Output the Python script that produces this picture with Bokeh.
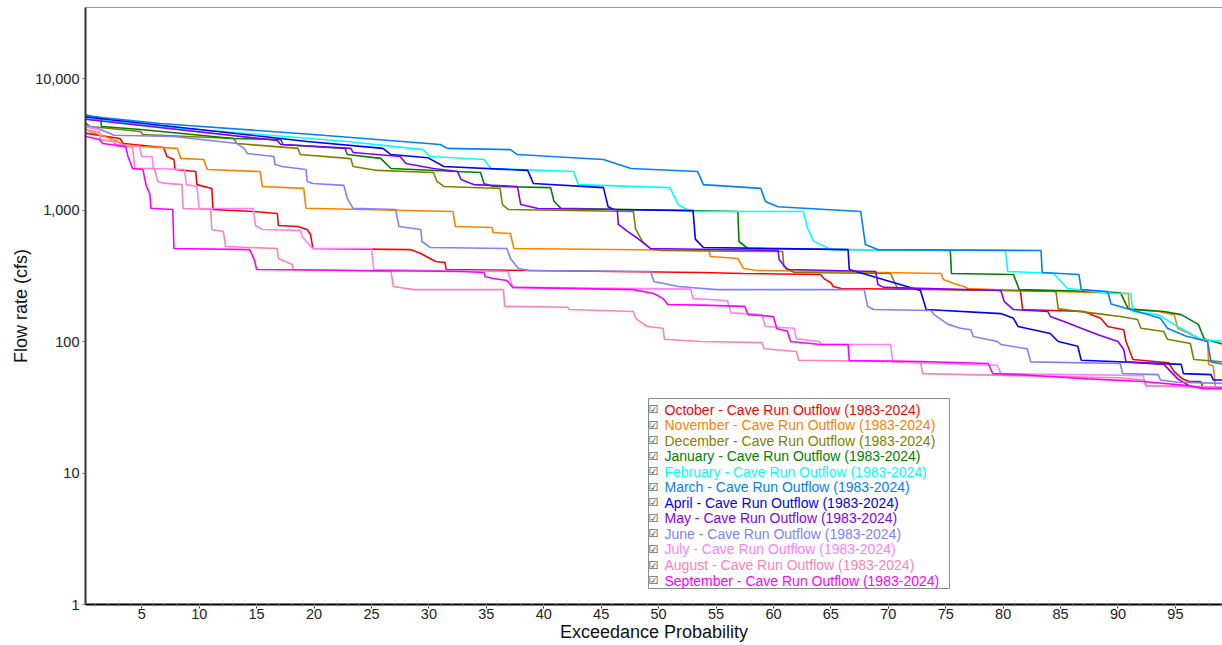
from bokeh.plotting import figure
from bokeh.models import Range1d, FixedTicker, NumeralTickFormatter, Label, BoxAnnotation, LinearAxis
from bokeh.embed import file_html
from bokeh.resources import INLINE

# ---- data: exceedance probability (%) vs flow (cfs) ----
oct_x = [0, 3.1, 3.4, 6.9, 7.2, 7.8, 7.9, 9.7, 9.8, 11.1, 11.2, 14.7, 16.8, 16.9, 18.6, 19.4, 19.7, 19.9, 28.4, 29.3, 30.1, 30.6, 31.4, 31.5, 53.7, 57.4, 64.1, 64.4, 65.0, 65.2, 65.9, 81.5, 81.7, 87.0, 88.5, 89.1, 90.5, 90.7, 91.3, 94.4, 94.9, 95.6, 96.2, 97.2, 97.4, 99.2]
oct_y = [3850, 3500, 3200, 2990, 2550, 2420, 2030, 1960, 1560, 1456, 1009, 975, 940, 762, 749, 711, 651, 509, 500, 467, 428, 406, 399, 353, 335, 329, 323, 301, 280, 262, 253, 244, 175, 169, 150, 130, 123, 100, 73, 69, 59, 52, 49.6, 49.6, 44.7, 44]

nov_x = [0, 0.5, 2.5, 3.4, 4.9, 8.1, 8.4, 10.4, 10.7, 15.3, 15.5, 19.1, 19.3, 32.1, 32.3, 35.5, 35.6, 37.1, 37.4, 54.4, 54.5, 56.9, 57.4, 58.6, 74.6, 74.8, 75.7, 76.6, 76.9, 79.2, 81.5, 87.9, 90.9, 91.0, 93.5, 94.9, 95.2, 97.2, 97.8, 97.9, 98.3, 98.5, 99.2]
nov_y = [4200, 3950, 3440, 3150, 3040, 2940, 2470, 2420, 2030, 1960, 1510, 1460, 1030, 975, 750, 736, 674, 663, 509, 492, 443, 428, 359, 347, 329, 296, 276, 262, 253, 248, 244, 236, 232, 175, 169, 160, 126, 104, 100, 67, 65, 44, 44]

dec_x = [0, 0.5, 4.9, 5.1, 13.0, 13.3, 18.6, 18.8, 23.2, 23.4, 25.5, 30.4, 30.7, 31.3, 36.2, 36.4, 36.9, 47.8, 48.0, 48.6, 49.3, 50.2, 60.8, 60.9, 61.8, 70.2, 70.8, 84.6, 84.8, 88.2, 90.2, 91.7, 92.0, 94.0, 94.3, 96.3, 96.6, 99.2]
dec_y = [4700, 4310, 3950, 3750, 3500, 3200, 2940, 2640, 2460, 2140, 2000, 1930, 1650, 1510, 1456, 1100, 1010, 975, 720, 576, 509, 492, 483, 372, 335, 329, 253, 240, 177, 163, 155, 147, 126, 119, 104, 96.5, 73, 70]

jan_x = [0, 1.4, 1.5, 4.9, 13.0, 17.1, 17.3, 22.7, 22.9, 25.8, 26.7, 32.5, 34.5, 34.8, 35.6, 40.6, 40.9, 41.5, 56.9, 57.0, 57.8, 75.4, 75.5, 80.9, 81.4, 88.2, 90.2, 90.9, 94.0, 95.5, 97.0, 97.5, 98.3, 99.2]
jan_y = [5300, 5000, 4310, 4090, 3500, 3440, 3150, 2940, 2640, 2470, 2070, 1960, 1930, 1590, 1510, 1480, 1160, 1030, 975, 576, 509, 492, 329, 323, 248, 240, 235, 177, 169, 160, 135, 105, 100, 95]

feb_x = [0, 6.6, 22.9, 29.5, 30.1, 34.8, 35.4, 42.6, 43.0, 51.0, 51.7, 52.8, 62.6, 63.0, 63.5, 65.0, 80.2, 80.4, 84.4, 85.6, 89.6, 91.1, 91.3, 93.5, 95.2, 97.2, 99.2]
feb_y = [4960, 4310, 3320, 2880, 2550, 2420, 2070, 1960, 1560, 1480, 1100, 975, 975, 718, 580, 500, 492, 341, 329, 253, 232, 232, 169, 160, 130, 104, 100]

mar_x = [0, 6.6, 19.9, 31.0, 31.6, 37.1, 37.7, 45.2, 47.6, 53.4, 53.9, 58.9, 59.3, 60.4, 67.6, 68.0, 69.1, 83.3, 83.4, 86.6, 86.8, 89.1, 89.4, 93.7, 94.3, 95.9, 97.8, 98.1, 99.2]
mar_y = [5200, 4550, 3750, 3150, 2940, 2880, 2640, 2420, 2070, 1960, 1560, 1460, 1160, 1060, 975, 547, 500, 492, 335, 323, 248, 240, 193, 150, 126, 110, 100, 70, 67]

apr_x = [0, 17.1, 19.4, 26.0, 26.7, 29.9, 31.3, 38.6, 39.1, 45.2, 45.6, 46.1, 53.0, 53.2, 53.9, 66.5, 66.6, 72.8, 73.3, 79.8, 80.9, 81.3, 84.1, 84.8, 86.5, 86.8, 95.5, 95.7, 98.1, 98.3, 99.2]
apr_y = [5100, 3500, 3320, 2940, 2640, 2500, 2140, 2000, 1590, 1480, 1060, 1010, 990, 600, 519, 500, 353, 244, 175, 163, 150, 130, 115, 100, 92, 72, 67, 57, 56, 51, 51]

may_x = [0, 16.8, 17.1, 23.2, 23.4, 27.5, 28.0, 30.4, 32.5, 32.8, 33.9, 37.7, 38.0, 39.5, 46.4, 46.5, 47.3, 48.2, 49.3, 60.4, 60.5, 61.2, 68.9, 69.1, 69.6, 79.8, 80.1, 80.9, 83.9, 84.1, 85.3, 86.8, 88.2, 90.0, 90.5, 90.7, 94.0, 94.6, 95.2, 96.3, 97.5, 99.2]
may_y = [4900, 3380, 3150, 2940, 2740, 2550, 2260, 2070, 1960, 1705, 1560, 1510, 1100, 1027, 1009, 776, 687, 607, 509, 492, 420, 353, 341, 271, 258, 244, 201, 175, 169, 155, 142, 126, 113, 100, 87, 70, 67, 59, 52, 45.5, 44, 44]

jun_x = [0, 1.4, 2.6, 7.8, 13.3, 13.9, 14.2, 16.5, 16.6, 17.2, 19.3, 19.4, 19.9, 22.6, 22.9, 23.4, 27.1, 27.4, 29.3, 29.4, 30.1, 36.8, 37.1, 37.8, 38.7, 49.3, 49.6, 51.7, 55.1, 67.9, 68.2, 68.7, 73.7, 74.0, 75.2, 76.3, 77.2, 77.4, 79.5, 79.8, 82.1, 82.4, 90.2, 90.4, 93.5, 93.7, 95.2, 99.2]
jun_y = [4450, 4090, 3700, 3620, 3200, 2940, 2690, 2550, 2220, 2140, 2030, 1650, 1590, 1540, 1220, 1030, 1009, 749, 711, 576, 519, 509, 428, 359, 347, 341, 286, 262, 248, 248, 185, 175, 172, 160, 135, 126, 123, 109, 100, 95, 88, 70, 68, 57, 56, 51, 49, 48]

jul_x = [0, 1.3, 1.4, 2.6, 2.8, 4.8, 5.0, 5.9, 6.0, 8.7, 8.9, 9.8, 10.0, 14.7, 14.9, 15.5, 18.8, 19.0, 19.9, 25.0, 25.2, 36.9, 37.3, 52.8, 53.0, 56.0, 56.3, 59.0, 59.3, 61.8, 62.0, 64.0, 64.2, 70.2, 70.4, 79.5, 79.8, 92.2, 92.4, 99.2]
jul_y = [4300, 4100, 3440, 3300, 3150, 3040, 2550, 2550, 2070, 2030, 1560, 1510, 1030, 1027, 762, 711, 700, 620, 509, 509, 353, 341, 258, 250, 212, 205, 165, 160, 130, 126, 105, 100, 95, 95, 70, 66, 57, 55, 46, 45]

aug_x = [0, 1.3, 1.4, 2.6, 2.8, 4.2, 4.4, 6.1, 6.4, 6.9, 8.5, 8.6, 11.0, 11.1, 12.1, 12.3, 16.8, 16.9, 18.1, 18.2, 26.7, 26.9, 28.7, 36.5, 36.6, 42.1, 42.2, 47.8, 48.0, 49.0, 50.4, 50.5, 53.7, 59.0, 59.2, 62.0, 62.2, 72.8, 73.0, 77.0, 90.0, 92.3, 92.5, 99.2]
aug_y = [4100, 3900, 3440, 3300, 3040, 3000, 2070, 2070, 1650, 1600, 1560, 1027, 1009, 711, 687, 528, 509, 428, 385, 353, 341, 262, 248, 248, 185, 182, 175, 169, 150, 130, 126, 104, 100, 98, 88, 84, 72, 70, 57, 56, 53, 51, 46, 45]

sep_x = [0, 1.3, 1.6, 3.6, 3.8, 4.2, 5.1, 5.4, 5.7, 5.8, 7.7, 7.8, 14.4, 14.8, 15.0, 32.8, 34.8, 34.9, 35.6, 36.8, 37.3, 47.8, 49.6, 50.4, 50.8, 53.7, 57.5, 57.8, 60.0, 60.3, 61.2, 61.5, 64.1, 66.5, 66.6, 72.8, 78.7, 79.1, 81.5, 84.4, 87.4, 92.2, 96.3, 97.5, 99.2]
sep_y = [3650, 3440, 3200, 3040, 2550, 2070, 2030, 1510, 1330, 1030, 1010, 509, 500, 420, 353, 341, 335, 312, 301, 291, 258, 248, 232, 212, 191, 189, 185, 160, 155, 125, 120, 100, 95, 95, 71.7, 70.4, 68, 57, 56, 54, 52, 49.6, 46, 44, 44]

months = ["October", "November", "December", "January", "February", "March",
          "April", "May", "June", "July", "August", "September"]
colors = ["#FF0000", "#FF8000", "#808000", "#008000", "#00FFFF", "#0080FF",
          "#0000FF", "#8000FF", "#8080FF", "#FF80FF", "#FF80C0", "#FF00FF"]
series = [(oct_x, oct_y), (nov_x, nov_y), (dec_x, dec_y), (jan_x, jan_y),
          (feb_x, feb_y), (mar_x, mar_y), (apr_x, apr_y), (may_x, may_y),
          (jun_x, jun_y), (jul_x, jul_y), (aug_x, aug_y), (sep_x, sep_y)]
suffix = " - Cave Run Outflow (1983-2024)"
x_ticks = [5, 10, 15, 20, 25, 30, 35, 40, 45, 50, 55, 60, 65, 70, 75, 80, 85, 90, 95]

FONT = "Liberation Sans"

p = figure(width=1222, height=645, y_axis_type="log",
           x_range=Range1d(0.1, 99.1), y_range=Range1d(1, 34670),
           output_backend="svg", toolbar_location=None, title=None,
           min_border_left=85, min_border_right=0, min_border_top=7, min_border_bottom=41)
p.background_fill_color = "white"
p.border_fill_color = "white"
p.outline_line_color = None
p.grid.visible = False

for (xs, ys), c in zip(series, colors):
    p.line(xs, ys, line_color=c, line_width=1.6)

# x axis
xa = p.xaxis[0]
xa.ticker = FixedTicker(ticks=x_ticks, minor_ticks=list(range(1, 100)))
xa.axis_label = "Exceedance Probability"
xa.axis_label_text_font = FONT
xa.axis_label_text_font_size = "18px"
xa.axis_label_text_font_style = "normal"
xa.axis_label_text_color = "#111111"
xa.axis_label_standoff = 0
xa.major_label_text_font = FONT
xa.major_label_text_font_size = "14.5px"
xa.major_label_text_color = "#222222"
xa.major_label_standoff = 0
xa.major_tick_out = 4
xa.major_tick_in = 0
xa.minor_tick_out = 2
xa.minor_tick_in = 0
xa.axis_line_color = "#000000"
xa.axis_line_width = 2
xa.major_tick_line_color = "#444444"
xa.minor_tick_line_color = "#999999"

# y axis
ya = p.yaxis[0]
ya.formatter = NumeralTickFormatter(format="0,0")
ya.axis_label = "Flow rate (cfs)"
ya.axis_label_text_font = FONT
ya.axis_label_text_font_size = "18px"
ya.axis_label_text_font_style = "normal"
ya.axis_label_text_color = "#111111"
ya.axis_label_standoff = 1
ya.major_label_text_font = FONT
ya.major_label_text_font_size = "14.5px"
ya.major_label_text_color = "#222222"
ya.major_label_standoff = 3
ya.major_tick_out = 3
ya.major_tick_in = 0
ya.minor_tick_out = 0
ya.minor_tick_in = 0
ya.minor_tick_line_color = None
ya.axis_line_color = "#333333"
ya.axis_line_width = 2
ya.major_tick_line_color = "#666666"

# top frame line (an axis without ticks or labels)
top = LinearAxis(ticker=FixedTicker(ticks=[]), major_tick_out=0, major_tick_in=0,
                 minor_tick_out=0, minor_tick_in=0, axis_line_color="#999999",
                 major_tick_line_color=None, minor_tick_line_color=None)
p.add_layout(top, "above")

# legend box (screen units relative to the frame)
row_h = 15.55
box = BoxAnnotation(left=563, right=864, top=206, bottom=16,
                    left_units="screen", right_units="screen", top_units="screen", bottom_units="screen",
                    fill_color="white", fill_alpha=1.0, line_color="#8a8a8a", line_width=1, line_alpha=1.0)
p.add_layout(box)
for i, (m, c) in enumerate(zip(months, colors)):
    yc = 195 - i * row_h
    p.add_layout(Label(x=563, y=yc, x_units="screen", y_units="screen", text="\u2611",
                       text_font="DejaVu Sans", text_font_size="11px", text_color="#333333",
                       text_baseline="middle"))
    p.add_layout(Label(x=579, y=yc, x_units="screen", y_units="screen", text=m + suffix,
                       text_font=FONT, text_font_size="14px", text_color=c,
                       text_baseline="middle"))

open("out.html", "w").write(file_html(p, INLINE))
